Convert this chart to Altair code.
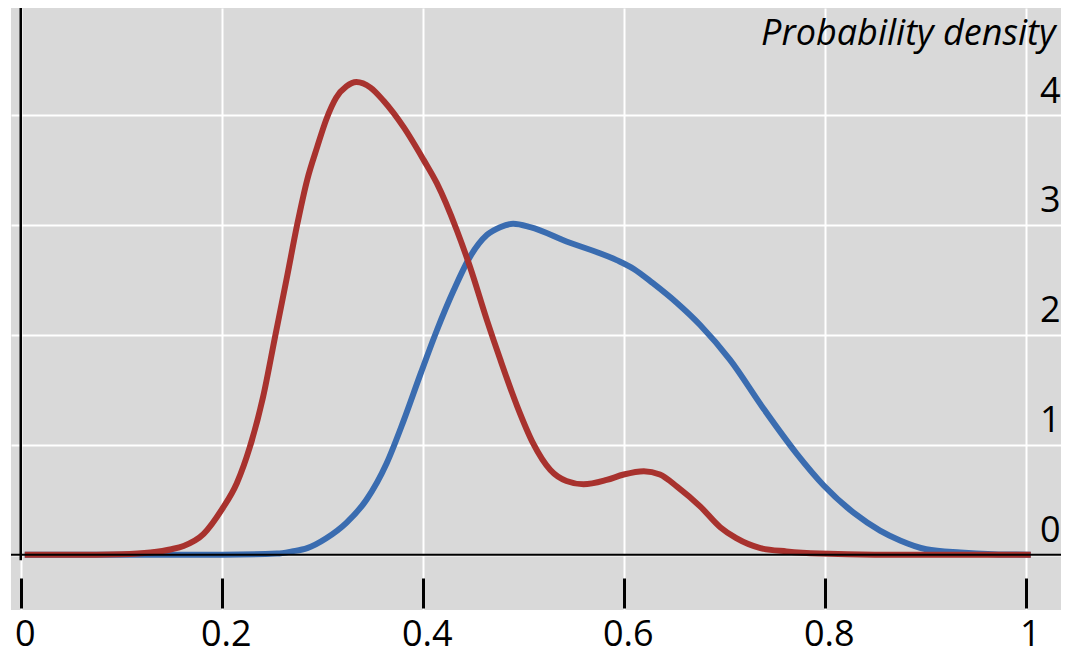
import altair as alt
import pandas as pd

# Red density curve (x, density)
red_x = [0.004, 0.05, 0.10, 0.129, 0.15, 0.162, 0.182, 0.200, 0.215, 0.228, 0.241, 0.253,
         0.265, 0.275, 0.285, 0.295, 0.304, 0.314, 0.324, 0.334, 0.348, 0.361, 0.381,
         0.401, 0.414, 0.434, 0.447, 0.464, 0.477, 0.494, 0.510, 0.527, 0.543, 0.560,
         0.583, 0.600, 0.620, 0.636, 0.653, 0.676, 0.696, 0.712, 0.736, 0.762, 0.795,
         0.85, 1.005]
red_y = [0.0, 0.0, 0.005, 0.02, 0.05, 0.08, 0.19, 0.41, 0.65, 0.98, 1.43, 1.98,
         2.53, 3.00, 3.41, 3.71, 3.96, 4.16, 4.26, 4.30, 4.25, 4.13, 3.89,
         3.59, 3.38, 2.95, 2.62, 2.13, 1.78, 1.35, 1.01, 0.77, 0.67, 0.64,
         0.68, 0.73, 0.76, 0.73, 0.62, 0.44, 0.25, 0.15, 0.06, 0.03, 0.01,
         0.0, 0.0]

# Blue density curve (x, density)
blue_x = [0.004, 0.20, 0.255, 0.27, 0.285, 0.304, 0.324, 0.344, 0.364, 0.381, 0.398,
          0.414, 0.431, 0.447, 0.464, 0.477, 0.490, 0.507, 0.543, 0.593, 0.610, 0.629,
          0.653, 0.676, 0.706, 0.739, 0.772, 0.799, 0.829, 0.855, 0.875, 0.901, 0.935,
          0.968, 1.005]
blue_y = [0.0, 0.0, 0.01, 0.03, 0.06, 0.15, 0.29, 0.50, 0.83, 1.22, 1.65,
          2.04, 2.41, 2.71, 2.91, 2.98, 3.01, 2.98, 2.85, 2.68, 2.60, 2.47,
          2.29, 2.09, 1.77, 1.33, 0.92, 0.63, 0.38, 0.22, 0.13, 0.05, 0.02,
          0.005, 0.0]

x_ticks = [0, 0.2, 0.4, 0.6, 0.8, 1]
y_ticks = [0, 1, 2, 3, 4]
y_title = "Probability density"

RED = "#a8322e"
BLUE = "#3a6cb0"
FONT = "Open Sans"

x_dom = [-0.0097, 1.0351]
y_dom = [-0.503, 4.974]

df = pd.concat([
    pd.DataFrame({"x": blue_x, "y": blue_y, "s": "blue", "o": 0}),
    pd.DataFrame({"x": red_x, "y": red_y, "s": "red", "o": 1}),
])

xscale = alt.Scale(domain=x_dom, nice=False, zero=False)
yscale = alt.Scale(domain=y_dom, nice=False, zero=False)

xaxis = alt.Axis(values=x_ticks, format="~g", orient="bottom", offset=-32,
                 domain=False, tickSize=30, tickWidth=3, tickColor="black",
                 grid=True, gridColor="white", gridWidth=2,
                 labelFontSize=36, labelFont=FONT, labelColor="black",
                 labelPadding=9, labelOffset=4, title=None)
yaxis = alt.Axis(values=y_ticks, format="d", orient="right", offset=-1,
                 domain=False, ticks=False,
                 grid=True, gridColor="white", gridWidth=2,
                 labelFontSize=36, labelFont=FONT, labelColor="black",
                 labelAlign="right", labelPadding=0, labelBaseline="alphabetic",
                 labelOffset=-13,
                 title=y_title, titleAngle=0, titleAlign="right",
                 titleBaseline="alphabetic", titleX=-5, titleY=36,
                 titleFontStyle="italic", titleFontWeight="normal",
                 titleFontSize=36, titleFont=FONT, titleColor="black")

lines = alt.Chart(df).mark_line(strokeWidth=6, interpolate="monotone", strokeCap="butt").encode(
    x=alt.X("x:Q", scale=xscale, axis=xaxis),
    y=alt.Y("y:Q", scale=yscale, axis=yaxis),
    color=alt.Color("s:N", scale=alt.Scale(domain=["blue", "red"], range=[BLUE, RED]), legend=None),
    detail="s:N",
    order="o:Q",
)

zero_df = pd.DataFrame({"y": [0]})
hline = alt.Chart(zero_df).mark_rule(color="black", strokeWidth=2).encode(
    y=alt.Y("y:Q", scale=yscale),
)
vline = alt.Chart(pd.DataFrame({"x": [0], "ytop": [y_dom[1]], "ybot": [-0.05]})).mark_rule(
    color="black", strokeWidth=2.5).encode(
    x=alt.X("x:Q", scale=xscale),
    y=alt.Y("ytop:Q", scale=yscale),
    y2="ybot:Q",
)

chart = alt.layer(lines, hline, vline).properties(
    width=1050, height=602,
    autosize=alt.AutoSizeParams(type="none"),
    padding={"left": 3, "top": 0, "right": 0, "bottom": 46},
).configure(font=FONT).configure_view(fill="#d9d9d9", strokeWidth=0)

chart.save("out.html", embed_options={"renderer": "svg", "actions": False})
